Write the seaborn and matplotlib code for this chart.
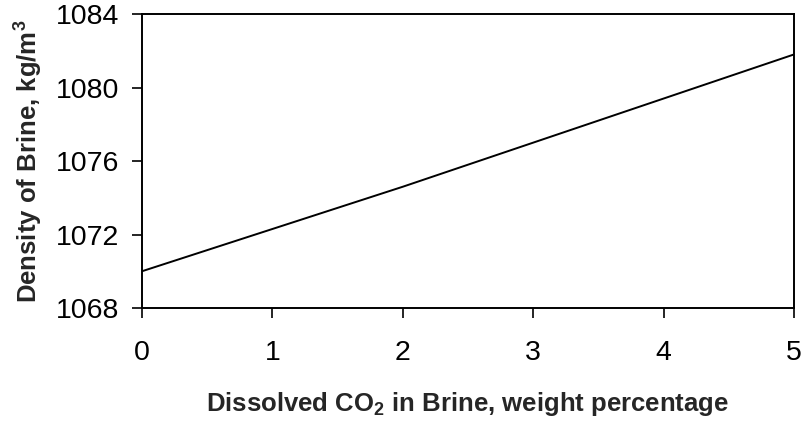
import matplotlib
matplotlib.use("Agg")
import matplotlib.pyplot as plt
import seaborn as sns
import pandas as pd

# Brine density against dissolved CO2 content
co2_wt_pct = [0, 1, 2, 3, 4, 5]
density = [1070.0, 1072.3, 1074.6, 1077.0, 1079.4, 1081.8]
x_ticks = [0, 1, 2, 3, 4, 5]
y_ticks = [1068, 1072, 1076, 1080, 1084]

sns.set_style("ticks")
plt.rcParams["font.family"] = ["Liberation Sans", "DejaVu Sans"]
plt.rcParams["mathtext.fontset"] = "custom"
plt.rcParams["mathtext.rm"] = "Liberation Sans"
plt.rcParams["mathtext.bf"] = "Liberation Sans:bold"

df = pd.DataFrame({"co2": co2_wt_pct, "density": density})

fig = plt.figure(figsize=(8.03, 4.21), dpi=100)
ax = fig.add_axes([0.1768, 0.2684, 0.9888 - 0.1768, 0.9667 - 0.2684])

sns.lineplot(data=df, x="co2", y="density", ax=ax, color="black", linewidth=1.4)

ax.set_xlim(0, 5)
ax.set_ylim(1068, 1084)
ax.set_xticks(x_ticks)
ax.set_yticks(y_ticks)
ax.tick_params(axis="both", direction="out", length=7.2, width=1.2,
               labelsize=20.5, colors="black")
ax.tick_params(axis="y", pad=9)
ax.tick_params(axis="x", pad=16)
for spine in ax.spines.values():
    spine.set_visible(True)
    spine.set_linewidth(1.4)
    spine.set_color("black")

ax.set_xlabel(r"Dissolved CO$_\mathbf{2}$ in Brine, weight percentage",
              fontsize=18.5, fontweight="bold", labelpad=17)
ax.set_ylabel(r"Density of Brine, kg/m$^\mathbf{3}$",
              fontsize=18.5, fontweight="bold", labelpad=9)

fig.savefig("out.png", dpi=100, facecolor="white")
